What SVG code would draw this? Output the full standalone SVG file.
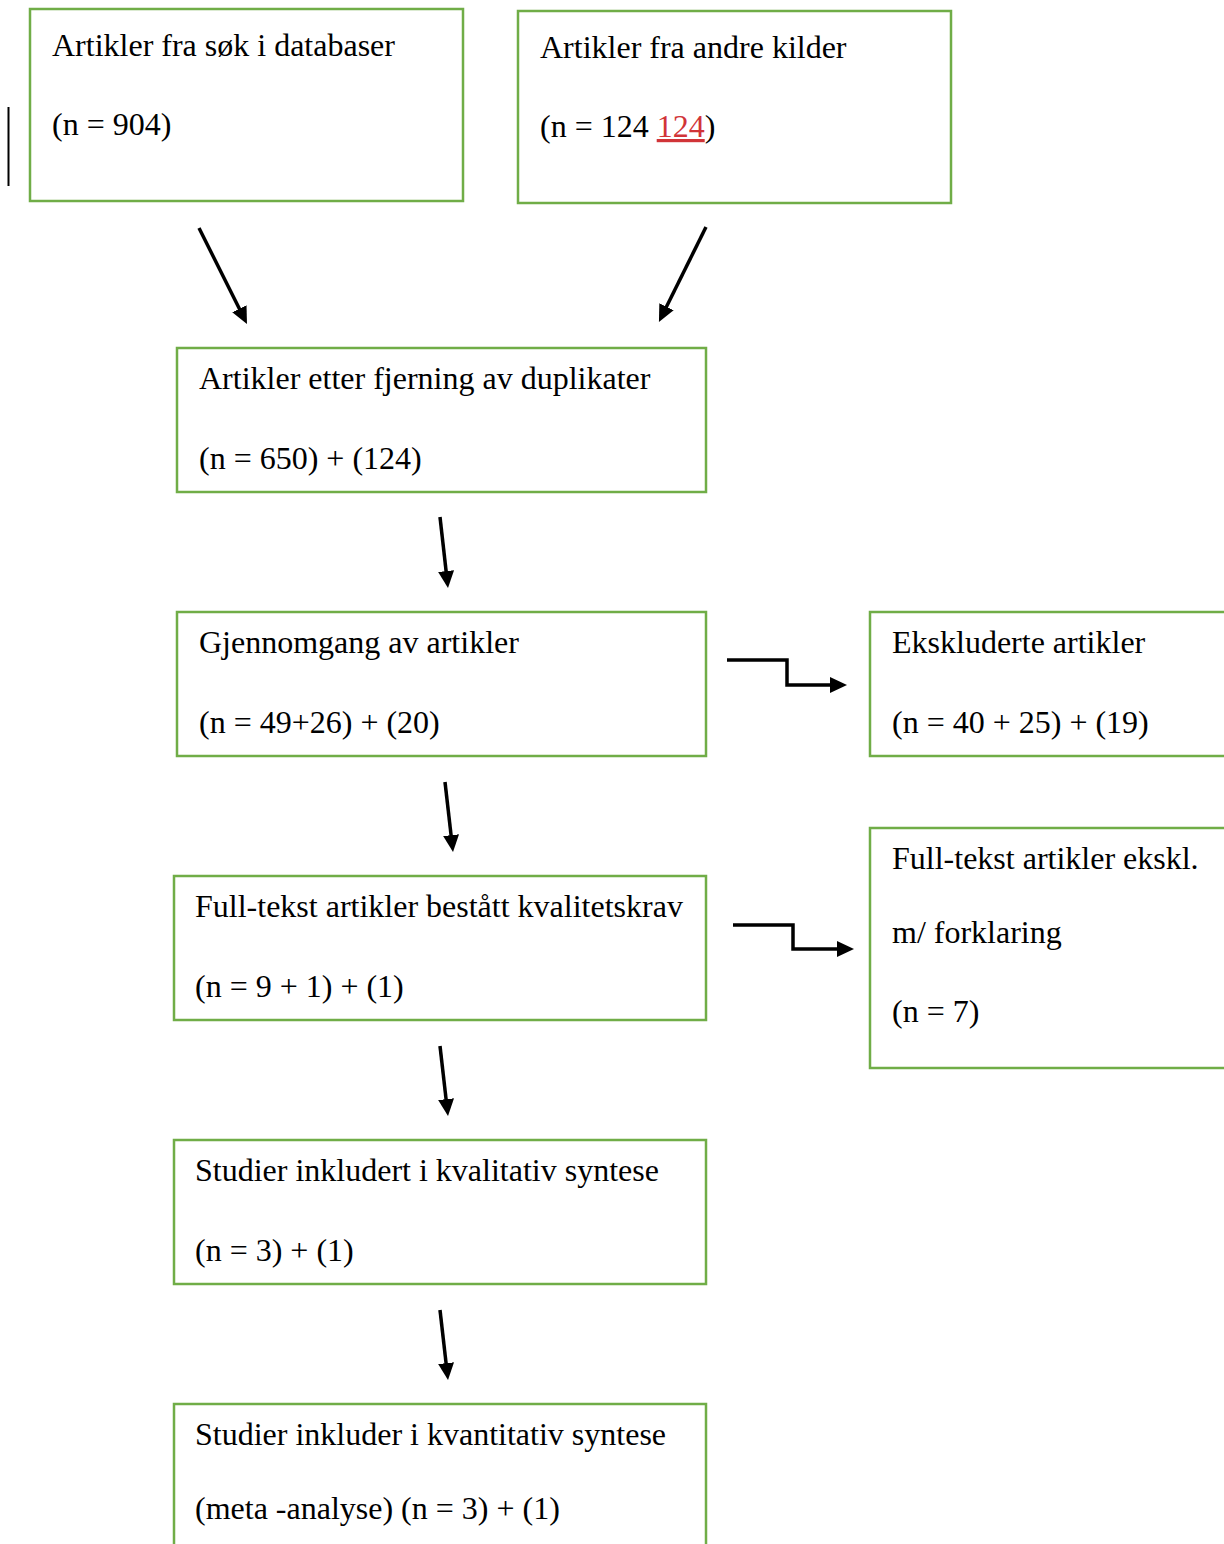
<svg xmlns="http://www.w3.org/2000/svg" width="1224" height="1544" viewBox="0 0 1224 1544">
<style>
.box{fill:#fff;stroke:#70AD47;stroke-width:2.5}
.t{font-family:"Liberation Serif","Times New Roman",serif;font-size:32px;fill:#000}
.red{fill:#D13438}
.c{stroke:#000;stroke-width:3.5;fill:none}
</style>
<defs>
<marker id="ah" markerWidth="17" markerHeight="16" refX="9" refY="8" orient="auto" markerUnits="userSpaceOnUse">
<path d="M0,0 L17,8 L0,16 z" fill="#000"/>
</marker>
</defs>
<rect width="1224" height="1544" fill="#fff"/>
<line x1="8.5" y1="107" x2="8.5" y2="186" stroke="#000" stroke-width="2"/>
<g id="n1"><rect class="box" x="30" y="9" width="433" height="192"/>
<text class="t" x="52" y="56">Artikler fra søk i databaser</text>
<text class="t" x="52" y="135">(n = 904)</text></g>
<g id="n2"><rect class="box" x="518" y="11" width="433" height="192"/>
<text class="t" x="540" y="58">Artikler fra andre kilder</text>
<text class="t" x="540" y="137">(n = 124 <tspan class="red" text-decoration="underline">124</tspan>)</text></g>
<g id="n3"><rect class="box" x="177" y="348" width="529" height="144"/>
<text class="t" x="199" y="389">Artikler etter fjerning av duplikater</text>
<text class="t" x="199" y="469">(n = 650) + (124)</text></g>
<g id="n4"><rect class="box" x="177" y="612" width="529" height="144"/>
<text class="t" x="199" y="653">Gjennomgang av artikler</text>
<text class="t" x="199" y="733">(n = 49+26) + (20)</text></g>
<g id="n5"><rect class="box" x="870" y="612" width="360" height="144"/>
<text class="t" x="892" y="653">Ekskluderte artikler</text>
<text class="t" x="892" y="733">(n = 40 + 25) + (19)</text></g>
<g id="n6"><rect class="box" x="174" y="876" width="532" height="144"/>
<text class="t" x="195" y="917">Full-tekst artikler bestått kvalitetskrav</text>
<text class="t" x="195" y="997">(n = 9 + 1) + (1)</text></g>
<g id="n7"><rect class="box" x="870" y="828" width="360" height="240"/>
<text class="t" x="892" y="869">Full-tekst artikler ekskl.</text>
<text class="t" x="892" y="943">m/ forklaring</text>
<text class="t" x="892" y="1022">(n = 7)</text></g>
<g id="n8"><rect class="box" x="174" y="1140" width="532" height="144"/>
<text class="t" x="195" y="1181">Studier inkludert i kvalitativ syntese</text>
<text class="t" x="195" y="1261">(n = 3) + (1)</text></g>
<g id="n9"><rect class="box" x="174" y="1404" width="532" height="160"/>
<text class="t" x="195" y="1445">Studier inkluder i kvantitativ syntese</text>
<text class="t" x="195" y="1519">(meta -analyse) (n = 3) + (1)</text></g>
<g id="connectors">
<line class="c" x1="199" y1="228" x2="243.4" y2="316.8" marker-end="url(#ah)"/>
<line class="c" x1="706" y1="227" x2="662.5" y2="314.8" marker-end="url(#ah)"/>
<line class="c" x1="440" y1="517" x2="447.1" y2="580" marker-end="url(#ah)"/>
<line class="c" x1="445" y1="782" x2="452.1" y2="844.1" marker-end="url(#ah)"/>
<line class="c" x1="440" y1="1046" x2="447.1" y2="1108.1" marker-end="url(#ah)"/>
<line class="c" x1="440" y1="1310" x2="447.1" y2="1372.1" marker-end="url(#ah)"/>
<polyline class="c" points="727,660 787,660 787,685 839,685" marker-end="url(#ah)"/>
<polyline class="c" points="733,925 793,925 793,949 846,949" marker-end="url(#ah)"/>
</g>
</svg>
